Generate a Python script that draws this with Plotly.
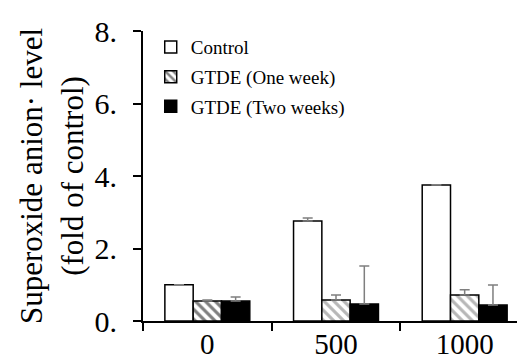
import plotly.graph_objects as go

# doses (x categories)
doses = ["0", "500", "1000"]

control = [1.0, 2.76, 3.75]
control_err = [0.0, 0.08, 0.01]
one_week = [0.55, 0.58, 0.72]
one_week_err = [0.03, 0.14, 0.14]
two_weeks = [0.55, 0.47, 0.44]
two_weeks_err = [0.11, 1.05, 0.55]

ytick_vals = [0, 2, 4, 6, 8]
ytick_text = ["0.", "2.", "4.", "6.", "8."]

font_name = "Liberation Serif"
err_style = dict(type="data", symmetric=False, color="#7f7f7f", thickness=1.5, width=5)

fig = go.Figure()

fig.add_trace(go.Bar(
    x=doses, y=control, name="Control", legendgroup="a",
    marker=dict(color="white", line=dict(color="black", width=1.5)),
    error_y=dict(array=control_err, arrayminus=[0, 0, 0], **err_style)))

fig.add_trace(go.Bar(
    x=doses, y=one_week, name="GTDE (One week)", legendgroup="b",
    marker=dict(color="white", line=dict(color="black", width=1.5),
                pattern=dict(shape="\\", fgcolor=["black", "#6f6f6f", "#6f6f6f"],
                             bgcolor="white", size=7, solidity=0.45)),
    error_y=dict(array=one_week_err, arrayminus=[0, 0, 0], **err_style)))

fig.add_trace(go.Bar(
    x=doses, y=two_weeks, name="GTDE (Two weeks)", legendgroup="c",
    marker=dict(color="black", line=dict(color="black", width=1.5)),
    error_y=dict(array=two_weeks_err, arrayminus=[0, 0, 0], **err_style)))

fig.update_layout(
    width=525, height=364,
    margin=dict(l=135, r=4, t=23, b=51),
    paper_bgcolor="white", plot_bgcolor="white",
    font=dict(family=font_name, color="black"),
    barmode="group", bargap=0.34, bargroupgap=0,
    showlegend=True,
    legend=dict(x=0.02, y=1.01, xanchor="left", yanchor="top",
                font=dict(size=19, family=font_name), bgcolor="rgba(0,0,0,0)",
                itemwidth=30, tracegroupgap=2),
)

fig.update_xaxes(
    type="category", tickson="boundaries",
    showline=True, linecolor="black", linewidth=2,
    ticks="outside", ticklen=8, tickwidth=2, tickcolor="black",
    tickfont=dict(size=29), ticklabelstandoff=-4, showgrid=False, zeroline=False,
)

fig.update_yaxes(
    range=[0, 8], tickmode="array", tickvals=ytick_vals, ticktext=ytick_text,
    showline=True, linecolor="black", linewidth=2,
    ticks="outside", ticklen=8, tickwidth=2, tickcolor="black",
    tickfont=dict(size=30), ticklabelstandoff=10, showgrid=False, zeroline=False,
    title=dict(text="Superoxide anion· level<br>(fold of control)",
               font=dict(size=31), standoff=2),
)

fig.write_html("out.html")
